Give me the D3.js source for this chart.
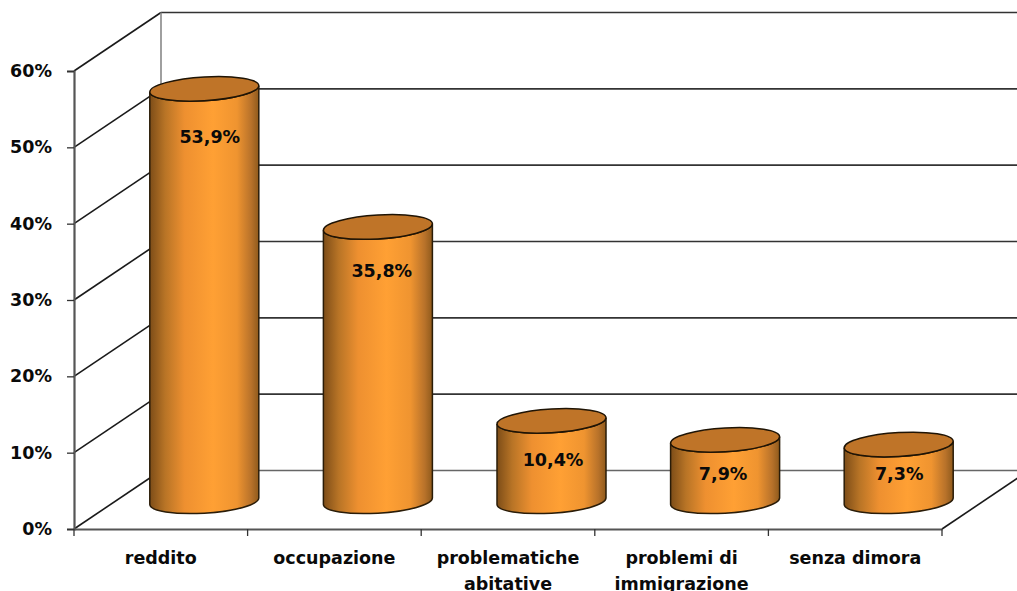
<!DOCTYPE html>
<html>
<head>
<meta charset="utf-8">
<script src="https://cdnjs.cloudflare.com/ajax/libs/d3/7.8.5/d3.min.js"></script>
<style>
html, body { margin: 0; padding: 0; background: #fff; overflow: hidden; }
svg text { font-family: "DejaVu Sans", sans-serif; font-weight: bold; fill: #0a0a0a; }
</style>
</head>
<body>
<svg id="chart" width="1017" height="591"></svg>
<script>
// Chart data
const categories = ["reddito", "occupazione", "problematiche abitative", "problemi di immigrazione", "senza dimora"];
const values = [53.9, 35.8, 10.4, 7.9, 7.3];
const valueLabels = ["53,9%", "35,8%", "10,4%", "7,9%", "7,3%"];
const yTicks = [0, 10, 20, 30, 40, 50, 60];

// Plot frame: front plane plus the offset of the receding back wall
const front = { left: 74, right: 942, bottom: 529, top: 71 };
const depth = { dx: 87, dy: -58.5 };
const wallRight = 1040;
const fontSize = 17.5;

const svg = d3.select("#chart");
const y = d3.scaleLinear().domain([0, 60]).range([front.bottom, front.top]);
const x = d3.scaleBand().domain(categories).range([front.left, front.right]);

// Horizontal shading of the cylinder side
const grad = svg.append("defs").append("linearGradient").attr("id", "side");
[[0, "#7d4d18"], [0.14, "#b87426"], [0.32, "#ee9030"], [0.58, "#ffa034"], [0.8, "#ef9430"], [0.93, "#b8722a"], [1, "#8f5a1c"]]
  .forEach(([o, c]) => grad.append("stop").attr("offset", o).attr("stop-color", c));

// Walls and gridlines
const walls = svg.append("g").attr("fill", "none");
walls.selectAll("line.back").data(yTicks).join("line")
  .attr("class", "back")
  .attr("x1", front.left + depth.dx).attr("x2", wallRight)
  .attr("y1", d => y(d) + depth.dy).attr("y2", d => y(d) + depth.dy)
  .attr("stroke", d => d === 0 ? "#666" : "#333").attr("stroke-width", 1.7);
walls.selectAll("line.side").data(yTicks).join("line")
  .attr("class", "side")
  .attr("x1", front.left).attr("y1", d => y(d))
  .attr("x2", front.left + depth.dx).attr("y2", d => y(d) + depth.dy)
  .attr("stroke", "#1a1a1a").attr("stroke-width", 1.6);
walls.append("line")
  .attr("x1", front.left + depth.dx).attr("x2", front.left + depth.dx)
  .attr("y1", y(60) + depth.dy).attr("y2", y(0) + depth.dy)
  .attr("stroke", "#888").attr("stroke-width", 1.6);
walls.append("line")
  .attr("x1", front.right).attr("y1", y(0))
  .attr("x2", front.right + depth.dx).attr("y2", y(0) + depth.dy)
  .attr("stroke", "#1a1a1a").attr("stroke-width", 1.6);

// Axes
const yAxis = svg.append("g").attr("transform", `translate(${front.left},0)`)
  .call(d3.axisLeft(y).tickValues(yTicks).tickFormat(d => d + "%").tickSize(7).tickPadding(15));
const xAxis = svg.append("g").attr("transform", `translate(0,${front.bottom})`)
  .call(d3.axisBottom(x).tickFormat("").tickSize(0));
[yAxis, xAxis].forEach(a => {
  a.selectAll(".domain").attr("stroke", "#555").attr("stroke-width", 2.2);
  a.selectAll(".tick line").attr("stroke", "#333").attr("stroke-width", 1.3);
});
yAxis.selectAll("text").attr("font-size", fontSize);

// Ticks sit on the band boundaries along the floor edge
xAxis.selectAll("line.edge").data(d3.range(categories.length + 1)).join("line")
  .attr("class", "edge")
  .attr("x1", i => front.left + i * x.step()).attr("x2", i => front.left + i * x.step())
  .attr("y1", 0).attr("y2", 7).attr("stroke", "#333").attr("stroke-width", 1.3);

// Category labels; the last word of the long names drops to a second line
const twoLine = new Set(["problematiche abitative", "problemi di immigrazione"]);
const labels = svg.append("g").attr("font-size", fontSize).attr("text-anchor", "middle");
categories.forEach(c => {
  let lines = [c];
  if (twoLine.has(c)) {
    const cut = c.lastIndexOf(" ");
    lines = [c.slice(0, cut), c.slice(cut + 1)];
  }
  lines.forEach((t, i) => labels.append("text")
    .attr("x", x(c) + x.bandwidth() / 2)
    .attr("y", 564 + i * 25.5)
    .text(t));
});

// Cylinders: tilted ellipses joined at their vertical tangents
const a = 54.6, b = 11.9, tiltDeg = 3.5, tilt = tiltDeg * Math.PI / 180;
const t0 = Math.atan2(b * Math.sin(tilt), a * Math.cos(tilt));
const tipX = a * Math.cos(t0) * Math.cos(tilt) + b * Math.sin(t0) * Math.sin(tilt);
const tipY = -a * Math.cos(t0) * Math.sin(tilt) + b * Math.sin(t0) * Math.cos(tilt);
const arc = (sweep, px, py) => `A${a},${b} ${-tiltDeg} 0 ${sweep} ${px},${py}`;

// Value labels ride lower on the short cylinders and drift right on the tall ones
const labelDrop = d3.scaleLinear().domain([7.3, 7.9, 10.4, 53.9]).range([35, 40, 45, 54]);
const labelShift = d3.scaleLinear().domain([7.3, 7.9, 10.4, 53.9]).range([0.5, -2, 1.5, 5.5]);

const bars = svg.append("g").selectAll("g").data(categories).join("g");
bars.each(function (c, i) {
  const g = d3.select(this);
  const cx = x(c) + x.bandwidth() / 2 + depth.dx / 2;
  const yBase = y(0) + depth.dy / 2 + 1.5;
  const yTop = y(values[i]) + depth.dy / 2 + 0.5;
  g.append("path")
    .attr("d", `M${cx - tipX},${yTop - tipY} L${cx - tipX},${yBase - tipY} ` +
      arc(0, cx + tipX, yBase + tipY) + ` L${cx + tipX},${yTop + tipY} ` +
      arc(1, cx - tipX, yTop - tipY) + "Z")
    .attr("fill", "url(#side)").attr("stroke", "#2a1c08").attr("stroke-width", 1.5);
  g.append("path")
    .attr("d", `M${cx - tipX},${yTop - tipY} ` + arc(1, cx + tipX, yTop + tipY) +
      arc(1, cx - tipX, yTop - tipY) + "Z")
    .attr("fill", "#bf7428").attr("stroke", "#1f1405").attr("stroke-width", 1.5);
  g.append("text")
    .attr("x", cx + labelShift(values[i])).attr("y", yTop + labelDrop(values[i]))
    .attr("font-size", fontSize).attr("text-anchor", "middle")
    .text(valueLabels[i]);
});
</script>
</body>
</html>
